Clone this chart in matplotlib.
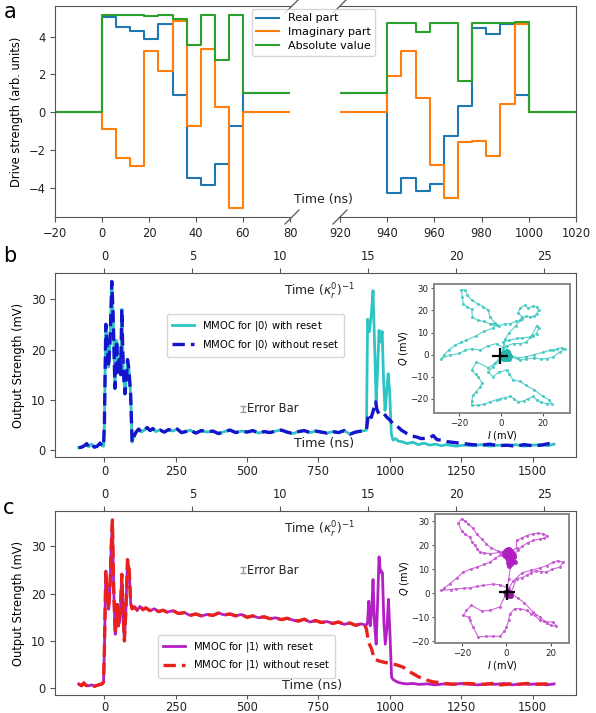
import numpy as np
import matplotlib
matplotlib.use("Agg")
import matplotlib.pyplot as plt
from matplotlib.lines import Line2D

plt.rcParams['font.family'] = ['DejaVu Sans']
plt.rcParams['axes.edgecolor'] = '#555555'
plt.rcParams['xtick.color'] = '#555555'
plt.rcParams['ytick.color'] = '#555555'
plt.rcParams['xtick.labelcolor'] = '#222222'
plt.rcParams['ytick.labelcolor'] = '#222222'

# ---------------- Panel a data (step pulses) ----------------
t_left = [-20, 0, 6, 12, 18, 24, 30, 36, 42, 48, 54, 60, 80]
real_left = [0, 5.06, 4.50, 4.27, 3.88, 4.64, 0.92, -3.49, -3.89, -2.73, -0.74, 1.0, 1.0]
imag_left = [0, -0.92, -2.46, -2.85, 3.26, 2.18, 4.85, -0.74, 3.33, 0.25, -5.08, 0, 0]
abs_left = [0, 5.14, 5.13, 5.13, 5.09, 5.13, 4.94, 3.57, 5.14, 2.74, 5.13, 1.0, 1.0]

t_right = [920, 940, 946, 952, 958, 964, 970, 976, 982, 988, 994, 1000, 1020]
real_right = [1.0, -4.30, -3.47, -4.18, -3.79, -1.27, 0.32, 4.46, 4.12, 4.67, 0.88, 0, 0]
imag_right = [0, 1.91, 3.26, 0.73, -2.81, -4.55, -1.61, -1.52, -2.32, 0.42, 4.67, 0, 0]
abs_right = [1.0, 4.71, 4.71, 4.24, 4.71, 4.71, 1.65, 4.71, 4.71, 4.71, 4.75, 0, 0]

series_labels_a = ["Real part", "Imaginary part", "Absolute value"]
xticks_left = [-20, 0, 20, 40, 60, 80]
xticks_right = [920, 940, 960, 980, 1000, 1020]
yticks_a = [-4, -2, 0, 2, 4]

# ---------------- Panel b data ----------------
t_b_common = [-90, -80, -70, -62, -55, -45, -35, -25, -15, -8, -3, 0, 5, 9, 15, 20, 26, 31, 37,
              43, 48, 52, 57, 61, 66, 72, 77, 81, 86, 92, 97, 102, 110, 120, 130, 140, 150, 160,
              170, 180, 195, 210, 225, 240, 255, 270, 285, 300, 320, 340, 360, 380, 400, 420,
              440, 460, 480, 500, 520, 540, 560, 580, 600, 620, 640, 660, 680, 700, 720, 740,
              760, 780, 800, 820, 840, 860, 880, 900, 912]
v_b_common = [0.5, 0.6, 0.9, 1.3, 0.7, 1.2, 0.6, 0.8, 1.4, 0.9, 0.8, 5.0, 25.0, 21.0, 16.5, 22.0,
              33.5, 26.0, 12.3, 21.8, 15.5, 18.0, 15.0, 28.0, 16.0, 11.2, 14.0, 18.0, 16.0, 11.0,
              1.6, 2.5, 3.5, 4.2, 3.6, 4.0, 4.5, 3.9, 4.3, 3.7, 4.0, 3.6, 4.1, 3.8, 4.2, 3.5, 3.7,
              4.0, 3.4, 3.9, 3.6, 3.8, 3.3, 3.7, 4.0, 3.5, 3.8, 3.6, 3.9, 3.4, 3.7, 3.5, 3.8, 4.0,
              3.6, 3.3, 3.7, 3.9, 3.5, 3.8, 3.6, 3.4, 3.7, 3.5, 3.9, 3.2, 3.6, 3.8, 3.9]

t_b_reset = [918, 922, 928, 935, 941, 947, 952, 957, 962, 967, 973, 978, 983, 988, 994, 999,
             1005, 1011, 1020, 1030, 1045, 1060, 1080, 1100, 1120, 1140, 1160, 1180, 1200, 1230,
             1260, 1290, 1320, 1350, 1380, 1410, 1440, 1470, 1500, 1530, 1555, 1575]
v_b_reset = [4.0, 26.0, 23.5, 27.0, 31.7, 20.0, 9.3, 16.0, 23.8, 21.5, 23.6, 14.0, 7.9, 11.0, 15.2,
             12.0, 3.3, 2.0, 2.3, 1.8, 1.65, 1.3, 1.6, 1.1, 1.4, 1.0, 1.2, 0.9, 1.1, 0.8, 1.0, 0.9,
             1.1, 0.8, 1.0, 0.9, 1.1, 0.8, 1.0, 1.1, 0.9, 1.2]

t_b_noreset = [918, 925, 935, 945, 950, 955, 962, 970, 980, 990, 1000, 1010, 1025, 1040, 1060,
               1080, 1095, 1110, 1125, 1140, 1152, 1165, 1180, 1200, 1230, 1260, 1290, 1320,
               1350, 1380, 1410, 1440, 1470, 1500, 1530, 1555, 1575]
v_b_noreset = [4.0, 7.3, 6.5, 8.5, 9.6, 8.0, 7.2, 7.0, 7.2, 6.5, 6.0, 5.3, 4.8, 4.0, 3.3, 2.8, 2.6,
               2.3, 2.4, 2.5, 2.9, 2.1, 2.0, 1.7, 1.5, 1.3, 1.1, 1.0, 1.2, 0.9, 1.0, 0.8, 1.1, 0.9,
               1.0, 1.3, 1.1]

# ---------------- Panel c data ----------------
t_c_common = [-90, -80, -72, -65, -55, -45, -35, -25, -15, -8, -3, 0, 5, 10, 15, 20, 24, 28, 33,
              38, 42, 45, 49, 53, 57, 61, 66, 70, 75, 81, 87, 92, 97, 105, 115, 125, 135, 145,
              160, 175, 190, 205, 220, 240, 260, 280, 300, 320, 340, 360, 380, 400, 420, 440,
              460, 480, 500, 520, 540, 560, 580, 600, 620, 640, 660, 680, 700, 720, 740, 760,
              780, 800, 820, 840, 860, 880, 900, 912]
v_c_common = [0.9, 0.5, 1.1, 0.6, 0.5, 0.7, 0.4, 0.6, 0.8, 0.9, 1.3, 8.0, 24.8, 20.0, 16.7, 22.0,
              30.0, 35.6, 20.0, 11.4, 15.0, 17.7, 13.2, 14.0, 18.0, 24.1, 15.0, 10.0, 16.0, 27.2,
              25.0, 18.0, 16.8, 17.2, 16.5, 17.3, 16.6, 17.0, 16.4, 16.8, 16.2, 16.5, 16.1, 16.4,
              15.8, 16.0, 15.4, 15.7, 15.3, 15.6, 15.4, 15.9, 15.5, 15.7, 15.3, 15.6, 15.0, 15.3,
              14.9, 15.1, 14.7, 14.9, 14.5, 14.8, 14.4, 14.2, 14.6, 14.0, 14.3, 13.9, 14.1, 13.7,
              14.0, 13.5, 13.8, 13.3, 13.6, 13.4]

t_c_reset = [918, 922, 926, 931, 936, 941, 946, 952, 957, 962, 967, 970, 974, 979, 984, 990, 995,
             1000, 1006, 1012, 1020, 1030, 1045, 1060, 1080, 1100, 1130, 1160, 1190, 1220, 1250,
             1280, 1310, 1340, 1370, 1400, 1430, 1460, 1490, 1520, 1550, 1575]
v_c_reset = [13.4, 14.0, 18.4, 13.2, 16.0, 23.0, 14.0, 9.3, 18.0, 27.8, 24.5, 24.8, 24.4, 14.0,
             9.3, 13.0, 18.8, 12.0, 2.3, 1.8, 1.5, 1.2, 1.0, 0.9, 1.0, 0.8, 0.9, 0.7, 0.9, 0.8,
             1.0, 0.8, 0.7, 0.9, 0.8, 1.0, 0.7, 0.9, 0.8, 0.9, 0.7, 0.9]

t_c_noreset = [918, 925, 936, 945, 960, 978, 995, 1013, 1030, 1048, 1065, 1083, 1100, 1118, 1135,
               1153, 1170, 1188, 1210, 1240, 1270, 1300, 1330, 1360, 1390, 1420, 1450, 1480,
               1510, 1540, 1575]
v_c_noreset = [12.5, 9.7, 8.3, 6.2, 5.8, 5.5, 5.3, 5.1, 4.8, 4.4, 3.6, 3.0, 2.4, 2.0, 1.6, 1.3,
               1.2, 1.0, 0.9, 0.8, 1.0, 0.9, 0.8, 1.0, 0.7, 0.9, 0.8, 1.0, 0.8, 0.9, 0.8]

xticks_bc = [0, 250, 500, 750, 1000, 1250, 1500]
kappa_ticks = [0, 5, 10, 15, 20, 25]
kappa_ns = 61.6   # ns per (kappa_r^0)^-1

# ---------------- Inset IQ trajectories ----------------
I_b = [0, -3, -6, -11.7, -14, -12, -10.9, -9, -10, -12, -13.3, -14, -14, -11, -8, -5.3, -2, -0.5,
       2, 4.5, 6, 8.3, 11, 13, 15.5, 17, 19, 22, 24.3, 23, 20, 16, 12, 9, 5.9, 4, 2.7, -1, -3.7,
       -6, -4, -1, 0.5, 2, 5, 9, 12, 16, 19, 22, 25, 28.3, 30.7, 29, 27, 25, 23.5, 20, 16, 12, 8,
       4, 1.1, 4, 7.5, 10, 14, 15.5, 17, 18, 17, 15, 12, 9, 6, 3, 1, -2, -6, -10, -14, -17, -20,
       -24.5, -28.5, -27, -25, -22, -19, -16.5, -12, -8, -4, -2, -4, -5.3, -8, -11, -13.6, -14,
       -16, -18, -18.5, -18.9, -17.3, -16, -14, -11, -8.5, -6, -5.3, -3, -1, 2, 4.3, 7, 9.1, 10,
       8.3, 9, 11.5, 13, 15.5, 17, 18, 17, 16, 14, 12, 10, 7, 4, 2, 1, 0.5]
Q_b = [-1, -4, -6, -3.3, -7, -9, -10, -13, -14.7, -17, -18.5, -21, -23, -23, -22.5, -21.5, -20.5,
       -20, -19.5, -19, -20, -21.5, -21, -20, -19, -20.5, -21.5, -22.3, -22.3, -20.5, -19, -16,
       -14, -12, -11.7, -9, -7, -8, -10, -8, -5.5, -3, -1.5, 0, -1, -2.6, -2, -1.5, -2, -1.8,
       -1, 1.2, 2.5, 3, 2.7, 2, 2, 1, 0, -1, -1.5, 0, 5.8, 6.5, 7.3, 7.5, 8, 8.5, 9.5, 12, 13, 9,
       5.5, 5, 5, 4, 3, 5, 4, 2, 2.7, 2, 0.5, -0.3, -1.8, 0, 2, 4.2, 5.5, 6.5, 8.5, 10.5, 12,
       13.3, 14, 14, 15, 15.5, 17, 20.5, 21.5, 23, 26, 29.5, 29.2, 27, 24.7, 23, 21.7, 20, 17,
       14.5, 13, 14, 14, 15, 15.6, 17, 19, 21, 22.4, 21, 22, 21.5, 20, 18.5, 17.5, 17, 17.5, 16,
       13, 10, 7, 3, 0]
I_b_cluster = [1, 2, 3, 2.5, 1.5, 3.5, 4, 2, 1, 3, 2, 0.5, 3.5, 2.5, 1.8, 4.5, 3, 1.2, 4, 2.8,
               1.6, 3.8, 0.8, 2.2]
Q_b_cluster = [-0.5, 0, 0.5, -1, -1.5, -1, 0, 1, 0.5, -2, -0.5, 0.2, 1, 0.8, -1.8, -0.8, -1.2,
               -2.2, -2.0, 1.4, 1.0, 0.4, -1.0, -1.5]
cross_b = (-0.5, -0.8)

I_c = [0, -3, -7.5, -11, -15.7, -17.9, -19.4, -17, -16.4, -15, -12.7, -9, -6, -3, -1, 0, 1, 1.5,
       3.7, 6, 9, 11, 12.7, 14.9, 17, 20.9, 22.4, 20, 18, 15, 12, 8, 5, 2, 4.5, 7, 9, 11, 13.4,
       15.5, 17.9, 20.5, 23.9, 25.4, 23, 20.9, 18, 15, 11, 7, 3, 1, -3, -6, -10.4, -13, -16.4,
       -19, -22.4, -25, -29.1, -28, -25.4, -22, -19.4, -16, -13.4, -10, -7.5, -5, -3, -1, -3,
       -7.5, -10, -11.9, -13, -14.2, -15.5, -16.4, -18.7, -20.1, -21.6, -20.1, -18.5, -17.2,
       -15, -13.4, -11, -9, -7, -4, 0, 2, 4.5, 4.5, 7, 9, 11.9, 14, 16.4, 18.3, 17, 14.9, 12,
       9.5, 7, 5, 3, 2, 1, 0]
Q_c = [0, -5.8, -7.2, -7.5, -5.1, -7.2, -9.3, -10, -11.4, -14, -18.3, -18, -18, -18, -16, -14.2,
       -11, -8.6, -6.5, -6.5, -7.2, -8.5, -9.3, -11.4, -11.8, -12.1, -13.9, -13.5, -12.5, -10,
       -8, -4, -2, 0, 6, 6.5, 7.4, 8.5, 9.4, 9, 8.75, 10, 10.8, 12.9, 13.5, 12.9, 11.5, 10.5,
       9.5, 8.5, 5, 2, 3.5, 3.8, 3.2, 2.8, 2.2, 2, 1.8, 1.5, 1.1, 2, 3.9, 6.5, 8.75, 10, 10.8, 12,
       12.9, 14.5, 15.7, 17, 17, 16.4, 16.8, 17, 18.5, 19.9, 21.5, 23.3, 24.7, 26, 29.2, 31, 30,
       29, 27, 24.7, 22.5, 20.5, 19, 17.5, 16, 17, 19, 22, 23, 24, 24.7, 25, 24.7, 24, 23, 22.6,
       22, 21, 19.5, 18, 15, 12, 6, 0]
I_c_blob = [-1, 0, 1, 2, 3, 3.5, 2.5, 1.5, 0.5, -0.5, 0, 1, 2, 3, 2, 1, 0.5, 1.5, 2.5, 3.2, 1, 2,
            -1.2, 0.2, 1.8, 2.8, 3.6, 0.8]
Q_c_blob = [17, 18, 18.5, 17.5, 16.5, 15, 14, 13, 14, 15.5, 16.5, 16, 15.5, 13.5, 12, 11.5, 12.5,
            14.5, 17, 16, 17.5, 13, 15.8, 14.8, 18.0, 15.0, 12.8, 18.2]
I_c_orig = [0, 0.5, 1, 1.5, 2, 1, 0, -0.5, 0.5, 1.5, 2, 1]
Q_c_orig = [0, 0.8, -0.5, 0.5, -1, -1.2, -0.8, 0.3, 1, -0.3, 0.2, 0.4]
cross_c = (0.3, 0.4)

# ---------------- Layout helpers ----------------
W, H = 596, 713
fig = plt.figure(figsize=(W / 100, H / 100), dpi=100)


def box(x0, y0, x1, y1):
    return [x0 / W, 1 - y1 / H, (x1 - x0) / W, (y1 - y0) / H]


TICK = 8.3

# ---------------- Panel a ----------------
axL = fig.add_axes(box(55, 6, 290, 217))
axR = fig.add_axes(box(340, 6, 576, 217), sharey=axL)
cols = ['#1f77b4', '#ff7f0e', '#2ca02c']
for ax, t, r, i, a in [(axL, t_left, real_left, imag_left, abs_left),
                       (axR, t_right, real_right, imag_right, abs_right)]:
    ax.plot(t, r, drawstyle='steps-post', color=cols[0], lw=1.5, label=series_labels_a[0])
    ax.plot(t, i, drawstyle='steps-post', color=cols[1], lw=1.5, label=series_labels_a[1])
    ax.plot(t, a, drawstyle='steps-post', color=cols[2], lw=1.5, label=series_labels_a[2])
    ax.tick_params(labelsize=TICK)
axL.set_xlim(-20, 80)
axR.set_xlim(920, 1020)
axL.set_ylim(-5.56, 5.62)
axL.set_xticks(xticks_left)
axR.set_xticks(xticks_right)
axL.set_yticks(yticks_a)
axL.spines['right'].set_visible(False)
axR.spines['left'].set_visible(False)
axR.tick_params(axis='y', left=False, labelleft=False)
axL.set_ylabel("Drive strength (arb. units)", fontsize=8.3, labelpad=4)
for xb in (292, 340):
    for yb in (6, 217):
        fig.add_artist(Line2D([(xb - 7) / W, (xb + 7) / W], [1 - (yb + 7) / H, 1 - (yb - 7) / H],
                              transform=fig.transFigure, color='#555555', lw=0.9))
fig.text(323 / W, 1 - 199 / H, "Time (ns)", fontsize=9, ha='center', va='center', color='#222222')
h, l = axL.get_legend_handles_labels()
fig.legend(h, l, loc='upper left', bbox_to_anchor=(252 / W, 1 - 9 / H), fontsize=8,
           borderaxespad=0, handlelength=2.0, labelspacing=0.35, borderpad=0.4)
fig.text(4 / W, 1 - 12 / H, "a", fontsize=15, ha='left', va='center')


# ---------------- Panels b and c ----------------
def main_panel(rect, t_common, v_common, t_r, v_r, t_n, v_n, col_r, col_n, lab_r, lab_n,
               leg_anchor, err_xy, nslabel_xy, kap_xy):
    ax = fig.add_axes(rect)
    ax.plot(t_common + t_r, v_common + v_r, color=col_r, lw=2.0, label=lab_r, zorder=2)
    ax.plot(t_common + t_n, v_common + v_n, color=col_n, lw=2.4, ls=(0, (3.7, 1.8)),
            label=lab_n, zorder=3)
    ax.set_xlim(-173, 1652)
    ax.set_xticks(xticks_bc)
    ax.tick_params(labelsize=TICK)
    ax.tick_params(axis='x', pad=2.5)
    ax.spines['top'].set_visible(False)
    ax.set_ylabel("Output Strength (mV)", fontsize=8.3, labelpad=4)
    sec = ax.secondary_xaxis('top', functions=(lambda t: np.asarray(t) / kappa_ns,
                                               lambda k: np.asarray(k) * kappa_ns))
    sec.set_xticks(kappa_ticks)
    sec.tick_params(labelsize=TICK)
    ax.legend(loc='upper left', bbox_to_anchor=leg_anchor, fontsize=7.2, borderaxespad=0,
              handlelength=2.2, labelspacing=0.45, borderpad=0.5)
    ax.errorbar([err_xy[0]], [err_xy[1]], yerr=[[0.018], [0.018]], transform=ax.transAxes,
                fmt='none', ecolor='#999999', elinewidth=1.0, capsize=2.0, capthick=1.0)
    ax.text(err_xy[0] + 0.008, err_xy[1], "Error Bar", transform=ax.transAxes, fontsize=8.3,
            va='center', ha='left', color='#222222')
    ax.text(nslabel_xy[0], nslabel_xy[1], "Time (ns)", transform=ax.transAxes, fontsize=9.2,
            ha='center', va='center', color='#222222')
    ax.text(kap_xy[0], kap_xy[1], r"Time $(\kappa_r^0)^{-1}$", transform=ax.transAxes,
            fontsize=8.8, ha='center', va='center', color='#222222')
    return ax


def frac(px, py, x0, y0, x1, y1):
    return ((px - x0) / (x1 - x0), 1 - (py - y0) / (y1 - y0))


rb = (55, 273, 576, 457)
axb = main_panel(box(*rb), t_b_common, v_b_common, t_b_reset, v_b_reset, t_b_noreset,
                 v_b_noreset, '#2ec4c4', '#1414cc',
                 r"MMOC for $|0\rangle$ with reset", r"MMOC for $|0\rangle$ without reset",
                 frac(167, 314, *rb), frac(243, 409, *rb), frac(324, 444, *rb),
                 frac(320, 292, *rb))
axb.set_ylim(-1.35, 35.2)
axb.set_yticks([0, 10, 20, 30])
fig.text(3 / W, 1 - 256 / H, "b", fontsize=15, ha='left', va='center')

rc = (55, 511, 576, 695)
axc = main_panel(box(*rc), t_c_common, v_c_common, t_c_reset, v_c_reset, t_c_noreset,
                 v_c_noreset, '#b41fc4', '#e8211d',
                 r"MMOC for $|1\rangle$ with reset", r"MMOC for $|1\rangle$ without reset",
                 frac(158, 635, *rc), frac(243, 570, *rc), frac(312, 685, *rc),
                 frac(320, 530, *rc))
axc.set_ylim(-1.45, 37.5)
axc.set_yticks([0, 10, 20, 30])
axc.tick_params(axis='x', pad=1.5, length=3)
fig.text(3 / W, 1 - 508 / H, "c", fontsize=15, ha='left', va='center')


# ---------------- Insets ----------------
def inset(rect, I, Q, ci, cq, cross, col, ccol, xlim, ylim, extra=None):
    ax = fig.add_axes(rect)
    ax.plot(I, Q, '-o', color=col, lw=0.8, ms=2.2, alpha=0.85, mew=0)
    ax.plot(ci, cq, '-o', color=ccol, lw=1.2, ms=3.6, alpha=0.95, mew=0)
    if extra is not None:
        ax.plot(extra[0], extra[1], '-o', color=extra[2], lw=1.0, ms=3.4, alpha=0.95, mew=0)
    ax.plot([cross[0]], [cross[1]], marker='+', color='black', ms=11, mew=1.6)
    ax.set_xlim(*xlim)
    ax.set_ylim(*ylim)
    ax.set_xticks([-20, 0, 20])
    ax.set_yticks([-20, -10, 0, 10, 20, 30])
    ax.tick_params(labelsize=6.2, length=2.5, pad=1.5)
    ax.set_xlabel(r"$I$ (mV)", fontsize=7, labelpad=1)
    ax.set_ylabel(r"$Q$ (mV)", fontsize=7, labelpad=0)
    for s in ax.spines.values():
        s.set_color('#888888')
        s.set_linewidth(1.4)
    return ax


inset(box(434, 284, 570, 413), I_b, Q_b, I_b_cluster, Q_b_cluster, cross_b, '#3cc8c0',
      '#22b5ad', (-32, 33), (-26.5, 32))
inset(box(435, 514, 569, 643), I_c, Q_c, I_c_blob, Q_c_blob, cross_c, '#c44fd0',
      '#b020c0', (-32, 28), (-20.8, 33), extra=(I_c_orig, Q_c_orig, '#8a1a96'))

fig.savefig("out.png", dpi=100)
